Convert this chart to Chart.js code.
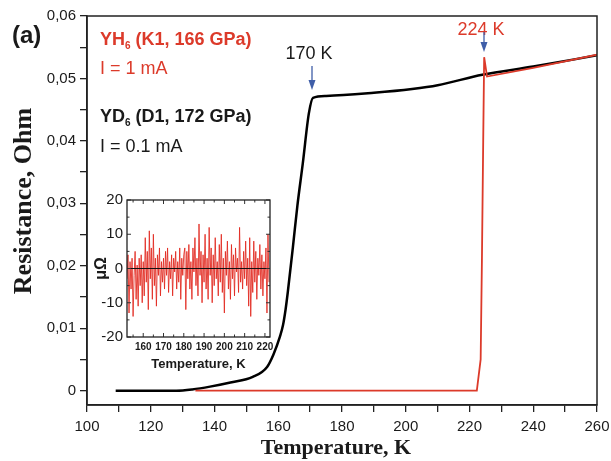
<!DOCTYPE html>
<html>
<head>
<meta charset="utf-8">
<title>YH6 / YD6 resistance</title>
<script src="https://cdn.jsdelivr.net/npm/chart.js@4.4.0/dist/chart.umd.min.js"></script>
<style>
  html, body { margin: 0; padding: 0; background: #fff; }
  #wrap { position: relative; width: 611px; height: 461px; }
  #mainChart { position: absolute; left: 0; top: 0; }
  #insetChart { position: absolute; left: 88px; top: 190px; }
</style>
</head>
<body>
<div id="wrap">
  <canvas id="mainChart" width="611" height="461"></canvas>
  <canvas id="insetChart" width="188" height="190"></canvas>
</div>
<script>
// YD6 (D1, 172 GPa), I = 0.1 mA  - black curve
const ydTemp = [109, 128, 133, 138.6, 145, 152, 156.5, 158.5, 160.5, 161.5, 162.3, 163, 164.6, 166, 167.7, 169.6, 170.9, 175, 190, 202, 210, 224, 240, 260];
const ydRes = [0, 0, 0.0002, 0.00064, 0.0013, 0.0022, 0.0038, 0.0058, 0.0086, 0.0105, 0.013, 0.0158, 0.023, 0.0296, 0.0364, 0.0444, 0.0469, 0.0472, 0.0477, 0.0483, 0.0489, 0.0506, 0.0519, 0.0537];

// YH6 (K1, 166 GPa), I = 1 mA  - red curve
const yhTemp = [134, 222.3, 223.5, 223.9, 224.3, 224.6, 225.5, 240, 260];
const yhRes = [0, 0, 0.005, 0.021, 0.04, 0.0534, 0.0503, 0.0517, 0.0538];

// inset: residual of the red curve below Tc, in microOhm
const insetTemp = [
  152, 152.5, 153, 153.5, 154, 154.5, 155, 155.5, 156, 156.5, 157, 157.5, 158, 158.5, 159, 159.5, 160,
  160.5, 161, 161.5, 162, 162.5, 163, 163.5, 164, 164.5, 165, 165.5, 166, 166.5, 167, 167.5, 168, 168.5, 169, 169.5, 170,
  170.5, 171, 171.5, 172, 172.5, 173, 173.5, 174, 174.5, 175, 175.5, 176, 176.5, 177, 177.5, 178, 178.5, 179, 179.5, 180,
  180.5, 181, 181.5, 182, 182.5, 183, 183.5, 184, 184.5, 185, 185.5, 186, 186.5, 187, 187.5, 188, 188.5, 189, 189.5, 190,
  190.5, 191, 191.5, 192, 192.5, 193, 193.5, 194, 194.5, 195, 195.5, 196, 196.5, 197, 197.5, 198, 198.5, 199, 199.5, 200,
  200.5, 201, 201.5, 202, 202.5, 203, 203.5, 204, 204.5, 205, 205.5, 206, 206.5, 207, 207.5, 208, 208.5, 209, 209.5, 210,
  210.5, 211, 211.5, 212, 212.5, 213, 213.5, 214, 214.5, 215, 215.5, 216, 216.5, 217, 217.5, 218, 218.5, 219, 219.5, 220,
  220.5, 221, 221.5, 222
];
const insetNoise = [
  -3, 4, -13, 2, -6, 3, -14, -2, 5, -9, 1, -11, 3, -5, 4, -10, 2,
  -8, 9, -4, 5, -12, 11, -3, 6, -9, 10, -5, 3, -11, 4, -2, 6, -8, 2, -4, 3,
  -6, 5, -2, 6, -7, 2, -3, 4, -8, 3, -1, 5, -6, 2, -4, 6, -9, 3, -2, 4,
  6, -12, 5, -3, 7, -6, 2, -9, 6, -1, 9, -5, 3, -8, 13, -2, 5, -10, 4, -4,
  10, -6, 3, -9, 12, -2, 6, -10, 4, -5, 9, -3, 2, -8, 7, -4, 10, -7, 3, -13,
  5, -2, 8, -6, 2, -9, 7, -3, 4, -8, 6, -1, 3, -7, 12, -4, 2, -6, 5, -3,
  8, -5, 3, -11, 9, -14, 2, -7, 8, -4, 5, -9, 3, -2, 7, -6, 4, -8, 2, -3,
  6, -13, 10, -4
];

// colours and fonts
const RED = "#dc3a2a";
const BLUE = "#3f5ea8";
const INK = "#1a1a1a";
const SANS = "'Liberation Sans', Arial, sans-serif";
const SERIF = "'Liberation Serif', 'Times New Roman', serif";

const toPoints = (xs, ys) => xs.map((x, i) => ({ x: x, y: ys[i] }));
const isMultiple = (v, step) => Math.abs(v / step - Math.round(v / step)) < 1e-6;

// draw text with a subscript part, e.g. YH6
function drawSubText(ctx, x, y, parts) {
  let cx = x;
  parts.forEach((p) => {
    ctx.font = p.font;
    ctx.fillText(p.text, cx, y + (p.dy || 0));
    cx += ctx.measureText(p.text).width + (p.gap || 0);
  });
}

function drawArrow(ctx, x, y1, y2) {
  ctx.save();
  ctx.strokeStyle = BLUE;
  ctx.fillStyle = BLUE;
  ctx.lineWidth = 1.3;
  ctx.beginPath();
  ctx.moveTo(x, y1);
  ctx.lineTo(x, y2 - 8);
  ctx.stroke();
  ctx.beginPath();
  ctx.moveTo(x - 3.5, y2 - 10);
  ctx.lineTo(x + 3.5, y2 - 10);
  ctx.lineTo(x, y2);
  ctx.closePath();
  ctx.fill();
  ctx.restore();
}

// frame, labels and annotations of the main plot
const mainDecor = {
  id: "mainDecor",
  afterDraw(chart) {
    const ctx = chart.ctx;
    const a = chart.chartArea;
    ctx.save();
    ctx.strokeStyle = "#222";
    ctx.lineWidth = 1.5;
    ctx.strokeRect(a.left, a.top, a.right - a.left, a.bottom - a.top);

    ctx.textBaseline = "alphabetic";
    ctx.textAlign = "left";
    ctx.fillStyle = INK;
    ctx.font = "bold 24px " + SANS;
    ctx.fillText("(a)", 12, 43);

    // sample labels
    ctx.fillStyle = RED;
    drawSubText(ctx, 100, 45, [
      { text: "YH", font: "bold 18px " + SANS },
      { text: "6", font: "bold 10px " + SANS, dy: 4 },
      { text: " (K1, 166 GPa)", font: "bold 18px " + SANS },
    ]);
    ctx.font = "18px " + SANS;
    ctx.fillText("I = 1 mA", 100, 74);

    ctx.fillStyle = INK;
    drawSubText(ctx, 100, 122, [
      { text: "YD", font: "bold 18px " + SANS },
      { text: "6", font: "bold 10px " + SANS, dy: 4 },
      { text: " (D1, 172 GPa)", font: "bold 18px " + SANS },
    ]);
    ctx.font = "18px " + SANS;
    ctx.fillText("I = 0.1 mA", 100, 152);

    // transition markers
    ctx.textAlign = "center";
    ctx.fillStyle = INK;
    ctx.fillText("170 K", 309, 59);
    ctx.fillStyle = RED;
    ctx.fillText("224 K", 481, 35);
    drawArrow(ctx, 312, 66, 90);
    drawArrow(ctx, 484, 32, 52);

    // axis titles
    ctx.fillStyle = INK;
    ctx.font = "bold 22px " + SERIF;
    ctx.fillText("Temperature, K", 336, 454);
    ctx.save();
    ctx.translate(31, 201);
    ctx.rotate(-Math.PI / 2);
    ctx.font = "bold 26px " + SERIF;
    ctx.fillText("Resistance, Ohm", 0, 0);
    ctx.restore();
    ctx.restore();
  },
};

const mainChart = new Chart(document.getElementById("mainChart"), {
  type: "line",
  data: {
    datasets: [
      {
        label: "YH6 (K1, 166 GPa)",
        data: toPoints(yhTemp, yhRes),
        borderColor: RED,
        borderWidth: 1.8,
        pointRadius: 0,
        tension: 0,
      },
      {
        label: "YD6 (D1, 172 GPa)",
        data: toPoints(ydTemp, ydRes),
        borderColor: "#000",
        borderWidth: 2.5,
        pointRadius: 0,
        cubicInterpolationMode: "monotone",
      },
    ],
  },
  options: {
    responsive: false,
    animation: false,
    layout: { padding: { top: 16, right: 14, left: 0, bottom: 0 } },
    plugins: { legend: { display: false }, tooltip: { enabled: false } },
    scales: {
      x: {
        type: "linear",
        min: 100,
        max: 260,
        afterFit: (scale) => {
          scale.height = 56;
          scale.paddingRight = 0;
          scale.paddingLeft = 0;
        },
        ticks: {
          stepSize: 10,
          padding: 6,
          color: INK,
          font: { family: SANS, size: 15 },
          maxRotation: 0,
          autoSkip: false,
          callback: (v) => (v % 20 === 0 ? String(v) : ""),
        },
        grid: { drawOnChartArea: false, tickLength: 7, color: "#222", lineWidth: 1.3 },
        border: { color: "#222", width: 1.5 },
      },
      y: {
        type: "linear",
        min: -0.0023,
        max: 0.06,
        afterFit: (scale) => {
          scale.width = 87;
          scale.paddingTop = 0;
        },
        afterBuildTicks: (scale) => {
          scale.ticks = scale.ticks.filter((t) => isMultiple(t.value, 0.005));
        },
        ticks: {
          stepSize: 0.005,
          includeBounds: false,
          padding: 4,
          color: INK,
          font: { family: SANS, size: 15 },
          autoSkip: false,
          callback: (v) => {
            if (!isMultiple(v, 0.01)) return "";
            if (Math.abs(v) < 1e-9) return "0";
            return v.toFixed(2).replace(".", ",");
          },
        },
        grid: { drawOnChartArea: false, tickLength: 7, color: "#222", lineWidth: 1.3 },
        border: { color: "#222", width: 1.5 },
      },
    },
  },
  plugins: [mainDecor],
});

// inset frame, zero line, inward ticks and titles
const insetDecor = {
  id: "insetDecor",
  beforeDatasetsDraw(chart) {
    const ctx = chart.ctx;
    const a = chart.chartArea;
    ctx.save();
    ctx.fillStyle = "#fff";
    ctx.fillRect(a.left, a.top, a.right - a.left, a.bottom - a.top);
    ctx.restore();
  },
  afterDatasetsDraw(chart) {
    const ctx = chart.ctx;
    const a = chart.chartArea;
    const xs = chart.scales.x;
    const ys = chart.scales.y;
    ctx.save();
    // zero line
    const y0 = ys.getPixelForValue(0);
    ctx.strokeStyle = "#111";
    ctx.lineWidth = 1.2;
    ctx.beginPath();
    ctx.moveTo(a.left, y0);
    ctx.lineTo(a.right, y0);
    ctx.stroke();

    // inward ticks
    ctx.lineWidth = 1;
    ctx.strokeStyle = "#333";
    xs.ticks.forEach((t) => {
      const px = xs.getPixelForValue(t.value);
      const len = isMultiple(t.value, 10) ? 4 : 2.5;
      ctx.beginPath();
      ctx.moveTo(px, a.bottom);
      ctx.lineTo(px, a.bottom - len);
      ctx.moveTo(px, a.top);
      ctx.lineTo(px, a.top + len);
      ctx.stroke();
    });
    ys.ticks.forEach((t) => {
      const py = ys.getPixelForValue(t.value);
      const len = isMultiple(t.value, 10) ? 4 : 2.5;
      ctx.beginPath();
      ctx.moveTo(a.left, py);
      ctx.lineTo(a.left + len, py);
      ctx.moveTo(a.right, py);
      ctx.lineTo(a.right - len, py);
      ctx.stroke();
    });

    // frame
    ctx.strokeStyle = "#222";
    ctx.lineWidth = 1.3;
    ctx.strokeRect(a.left, a.top, a.right - a.left, a.bottom - a.top);

    // titles
    ctx.fillStyle = INK;
    ctx.textAlign = "center";
    ctx.textBaseline = "alphabetic";
    ctx.font = "bold 13px " + SANS;
    ctx.fillText("Temperature, K", (a.left + a.right) / 2, 178);
    ctx.save();
    ctx.translate(18, ys.getPixelForValue(0));
    ctx.rotate(-Math.PI / 2);
    ctx.font = "bold 16px " + SANS;
    ctx.fillText("\u03bc\u03a9", 0, 0);
    ctx.restore();
    ctx.restore();
  },
};

const insetChart = new Chart(document.getElementById("insetChart"), {
  type: "line",
  data: {
    datasets: [
      {
        label: "residual",
        data: toPoints(insetTemp, insetNoise),
        borderColor: "rgba(226, 40, 30, 0.85)",
        borderWidth: 1,
        pointRadius: 0,
        tension: 0,
      },
    ],
  },
  options: {
    responsive: false,
    animation: false,
    layout: { padding: { top: 10, right: 6, left: 0, bottom: 0 } },
    plugins: { legend: { display: false }, tooltip: { enabled: false } },
    scales: {
      x: {
        type: "linear",
        min: 152,
        max: 222.5,
        afterFit: (scale) => {
          scale.height = 43;
          scale.paddingRight = 0;
          scale.paddingLeft = 0;
        },
        afterBuildTicks: (scale) => {
          scale.ticks = scale.ticks.filter((t) => isMultiple(t.value, 5));
        },
        ticks: {
          stepSize: 5,
          includeBounds: false,
          padding: 4,
          color: INK,
          font: { family: SANS, size: 10, weight: "bold" },
          maxRotation: 0,
          autoSkip: false,
          callback: (v) => (isMultiple(v, 10) ? String(v) : ""),
        },
        grid: { display: false, drawTicks: false, tickLength: 0 },
        border: { display: false },
      },
      y: {
        type: "linear",
        min: -20,
        max: 20,
        afterFit: (scale) => {
          scale.width = 39;
          scale.paddingTop = 0;
          scale.paddingBottom = 0;
        },
        ticks: {
          stepSize: 5,
          padding: 4,
          color: INK,
          font: { family: SANS, size: 15 },
          autoSkip: false,
          callback: (v) => (isMultiple(v, 10) ? String(v) : ""),
        },
        grid: { display: false, drawTicks: false, tickLength: 0 },
        border: { display: false },
      },
    },
  },
  plugins: [insetDecor],
});
</script>
</body>
</html>
